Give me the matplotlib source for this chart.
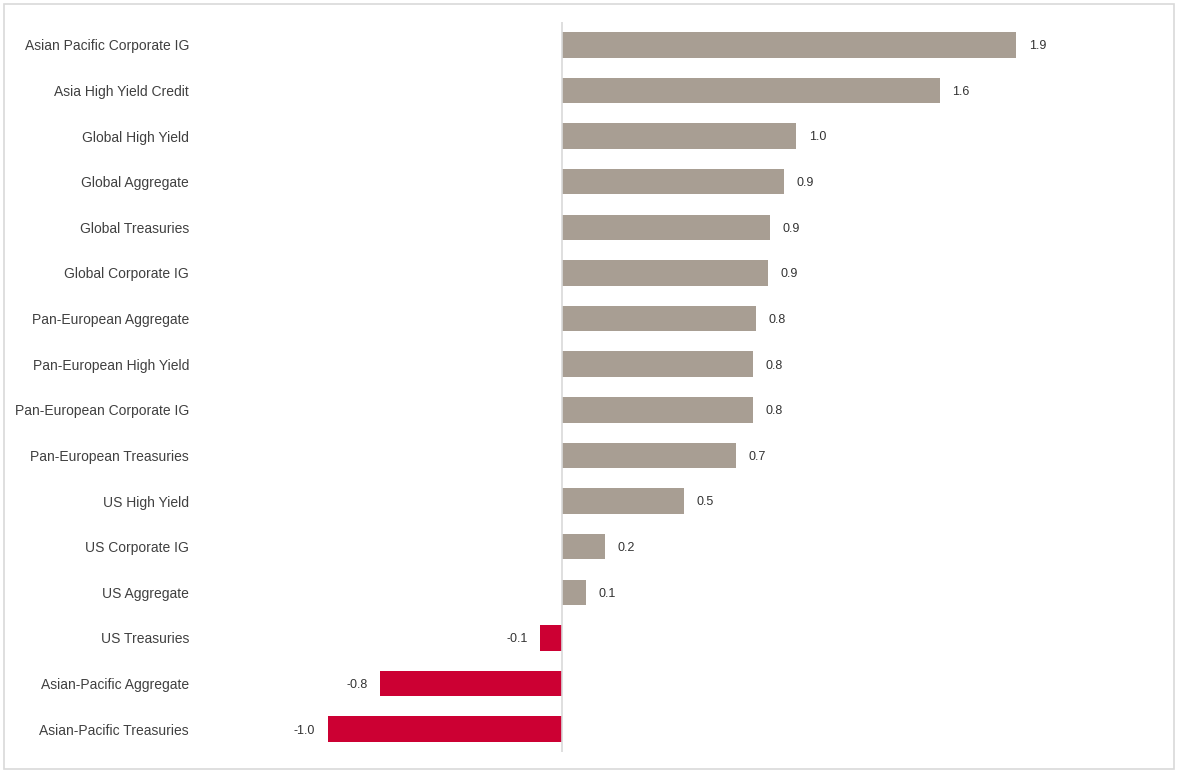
import matplotlib.pyplot as plt
from matplotlib.patches import Rectangle

plt.rcParams['font.family'] = ['Liberation Sans', 'DejaVu Sans']

categories = [
    'Asian Pacific Corporate IG', 'Asia High Yield Credit', 'Global High Yield',
    'Global Aggregate', 'Global Treasuries', 'Global Corporate IG',
    'Pan-European Aggregate', 'Pan-European High Yield', 'Pan-European Corporate IG',
    'Pan-European Treasuries', 'US High Yield', 'US Corporate IG',
    'US Aggregate', 'US Treasuries', 'Asian-Pacific Aggregate', 'Asian-Pacific Treasuries',
]
values = [1.90, 1.58, 0.98, 0.93, 0.87, 0.86, 0.81, 0.80, 0.80, 0.73,
          0.51, 0.18, 0.10, -0.09, -0.76, -0.98]

POS = '#a89e93'
NEG = '#cc0033'

fig = plt.figure(figsize=(11.82, 7.78), dpi=100)
ax = fig.add_axes([200 / 1182, 1 - 752 / 778, 970 / 1182, 730 / 778])

ypos = list(range(len(categories)))
colors = [POS if v >= 0 else NEG for v in values]
ax.barh(ypos, values, height=0.56, color=colors)
ax.set_ylim(len(categories) - 0.5, -0.5)
ax.set_xlim(-(562 - 200) / 239, (1170 - 562) / 239)
ax.axvline(0, color='#d9d9d9', lw=1.2)

for y, v in zip(ypos, values):
    if v >= 0:
        ax.annotate(f'{v:.1f}', (v, y), xytext=(9, -1), textcoords='offset points',
                    ha='left', va='center', fontsize=9, color='#333333')
    else:
        ax.annotate(f'{v:.1f}', (v, y), xytext=(-9, -1), textcoords='offset points',
                    ha='right', va='center', fontsize=9, color='#333333')

ax.set_yticks(ypos)
ax.set_yticklabels(categories, fontsize=10, color='#404040')
ax.tick_params(axis='y', length=0, pad=8)
ax.set_xticks([])
for s in ax.spines.values():
    s.set_visible(False)

# outer frame
fig.patches.append(Rectangle((4 / 1182, 1 - 769 / 778), 1170 / 1182, 765 / 778,
                             transform=fig.transFigure, fill=False,
                             edgecolor='#d9d9d9', lw=1.2))

fig.savefig('out.png', dpi=100)
